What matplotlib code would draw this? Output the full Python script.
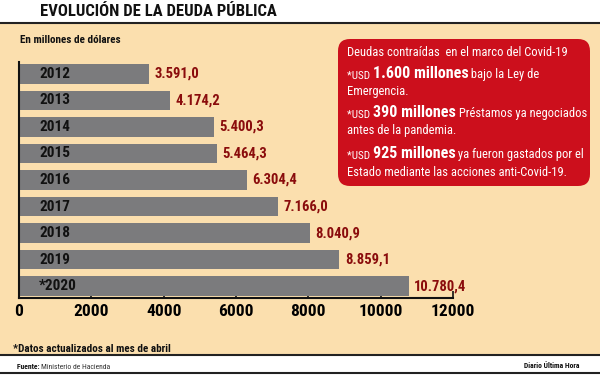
import matplotlib.pyplot as plt
from matplotlib.patches import FancyBboxPatch, Rectangle
from matplotlib.text import Annotation

plt.rcParams['font.family'] = ['Roboto Condensed', 'DejaVu Sans Condensed',
                               'Liberation Sans Narrow', 'DejaVu Sans']
plt.rcParams['font.stretch'] = 'condensed'

years = ['2012', '2013', '2014', '2015', '2016', '2017', '2018', '2019', '*2020']
deuda = [3591.0, 4174.2, 5400.3, 5464.3, 6304.4, 7166.0, 8040.9, 8859.1, 10780.4]
etiquetas = ['3.591,0', '4.174,2', '5.400,3', '5.464,3', '6.304,4',
             '7.166,0', '8.040,9', '8.859,1', '10.780,4']
xticks = [0, 2000, 4000, 6000, 8000, 10000, 12000]

beige = '#fbdfae'
gris = '#7b7b7d'
rojo_txt = '#8a0c0c'
rojo_box = '#cc0f1c'

fig = plt.figure(figsize=(6, 3.75), dpi=100)
fig.patch.set_facecolor('white')

# fondo beige y bandas
fig.add_artist(Rectangle((0, 20/375), 1, 1 - 44/375, transform=fig.transFigure,
                         facecolor=beige, edgecolor='none', zorder=0))
fig.add_artist(plt.Line2D([0, 1], [1 - 23/375, 1 - 23/375], color='#222', lw=1.5))
fig.add_artist(plt.Line2D([0, 1], [20/375, 20/375], color='#222', lw=1.5))
fig.add_artist(plt.Line2D([0, 1], [2/375, 2/375], color='#222', lw=1.5))


def cadena(x, y, partes, va='center'):
    # textos seguidos en una misma linea, con distinto tamaño/peso
    prev = None
    for txt, size, bold, col in partes:
        kw = dict(fontsize=size, color=col, fontweight='bold' if bold else 'normal')
        if prev is None:
            prev = fig.text(x, y, txt, va=va, ha='left', zorder=5, **kw)
        else:
            prev = Annotation(txt, xy=(1, 0), xycoords=prev, va='bottom',
                              ha='left', annotation_clip=False, zorder=5, **kw)
            fig.add_artist(prev)
    return prev


fig.text(0.066, 1 - 12/375, 'EVOLUCIÓN DE LA DEUDA PÚBLICA', fontsize=12,
         fontweight='bold', va='center', ha='left', color='#111')
fig.text(0.033, 1 - 40/375, 'En millones de dólares', fontsize=8,
         fontweight='bold', va='center', color='#111')
fig.text(0.022, 1 - 349/375, '*Datos actualizados al mes de abril', fontsize=8,
         fontweight='bold', va='center', color='#111')
cadena(0.028, 1 - 369/375, [('Fuente: ', 5.5, True, '#111'),
                            ('Ministerio de Hacienda', 5.5, False, '#333')],
       va='baseline')
fig.text(0.965, 1 - 366/375, 'Diario Última Hora', fontsize=5.5, fontweight='bold',
         va='center', ha='right', color='#111')

ax = fig.add_axes([19/600, 1 - 298/375, (453 - 19)/600, (298 - 62)/375])
ax.set_facecolor('none')
pos = list(range(len(years)))
ax.barh(pos, deuda, height=0.73, color=gris, zorder=2)
ax.set_ylim(8.45, -0.45)
ax.set_xlim(0, 12000)
for p, v, y, lab in zip(pos, deuda, years, etiquetas):
    ax.text(560, p, y, fontsize=11, fontweight='bold', va='center', ha='left',
            color='#111', zorder=3)
    ax.text(v + 150, p, lab, fontsize=10.5, fontweight='bold', va='center',
            ha='left', color=rojo_txt)

ax.set_xticks(xticks)
ax.set_xticklabels([str(x) for x in xticks], fontsize=12.5, fontweight='bold')
ax.set_yticks(pos)
ax.set_yticklabels([])
ax.tick_params(axis='y', direction='in', length=8, width=1.3, color='#111')
ax.tick_params(axis='x', direction='in', length=5, width=1.2, color='#111', pad=4)
for s in ['top', 'right']:
    ax.spines[s].set_visible(False)
for s in ['left', 'bottom']:
    ax.spines[s].set_linewidth(1.5)
    ax.spines[s].set_color('#111')
for tk in ax.yaxis.get_major_ticks():
    tk.tick1line.set_zorder(4)

# recuadro rojo
box = FancyBboxPatch((338/600, 1 - 186/375), 252/600, 147/375,
                     boxstyle='round,pad=0,rounding_size=0.02',
                     transform=fig.transFigure, facecolor=rojo_box,
                     edgecolor='none', zorder=1, mutation_aspect=1.6)
fig.add_artist(box)

x0 = 347/600
w = 'white'
fig.text(x0, 1 - 52/375, 'Deudas contraídas  en el marco del Covid-19',
         fontsize=9, color=w, va='center', zorder=5)
cadena(x0, 1 - 79/375, [('*USD ', 8, False, w), ('1.600 millones', 11.5, True, w),
                        (' bajo la Ley de', 9, False, w)], va='baseline')
fig.text(x0, 1 - 92/375, 'Emergencia.', fontsize=9, color=w, va='center',
         zorder=5)
cadena(x0, 1 - 118/375, [('*USD ', 8, False, w), ('390 millones', 11.5, True, w),
                         (' Préstamos ya negociados', 9, False, w)], va='baseline')
fig.text(x0, 1 - 131/375, 'antes de la pandemia.', fontsize=9, color=w,
         va='center', zorder=5)
cadena(x0, 1 - 159/375, [('*USD ', 8, False, w), ('925 millones', 11.5, True, w),
                         (' ya fueron gastados por el', 9, False, w)], va='baseline')
fig.text(x0, 1 - 172/375, 'Estado mediante las acciones anti-Covid-19.',
         fontsize=9, color=w, va='center', zorder=5)

fig.savefig('out.png', dpi=100)
